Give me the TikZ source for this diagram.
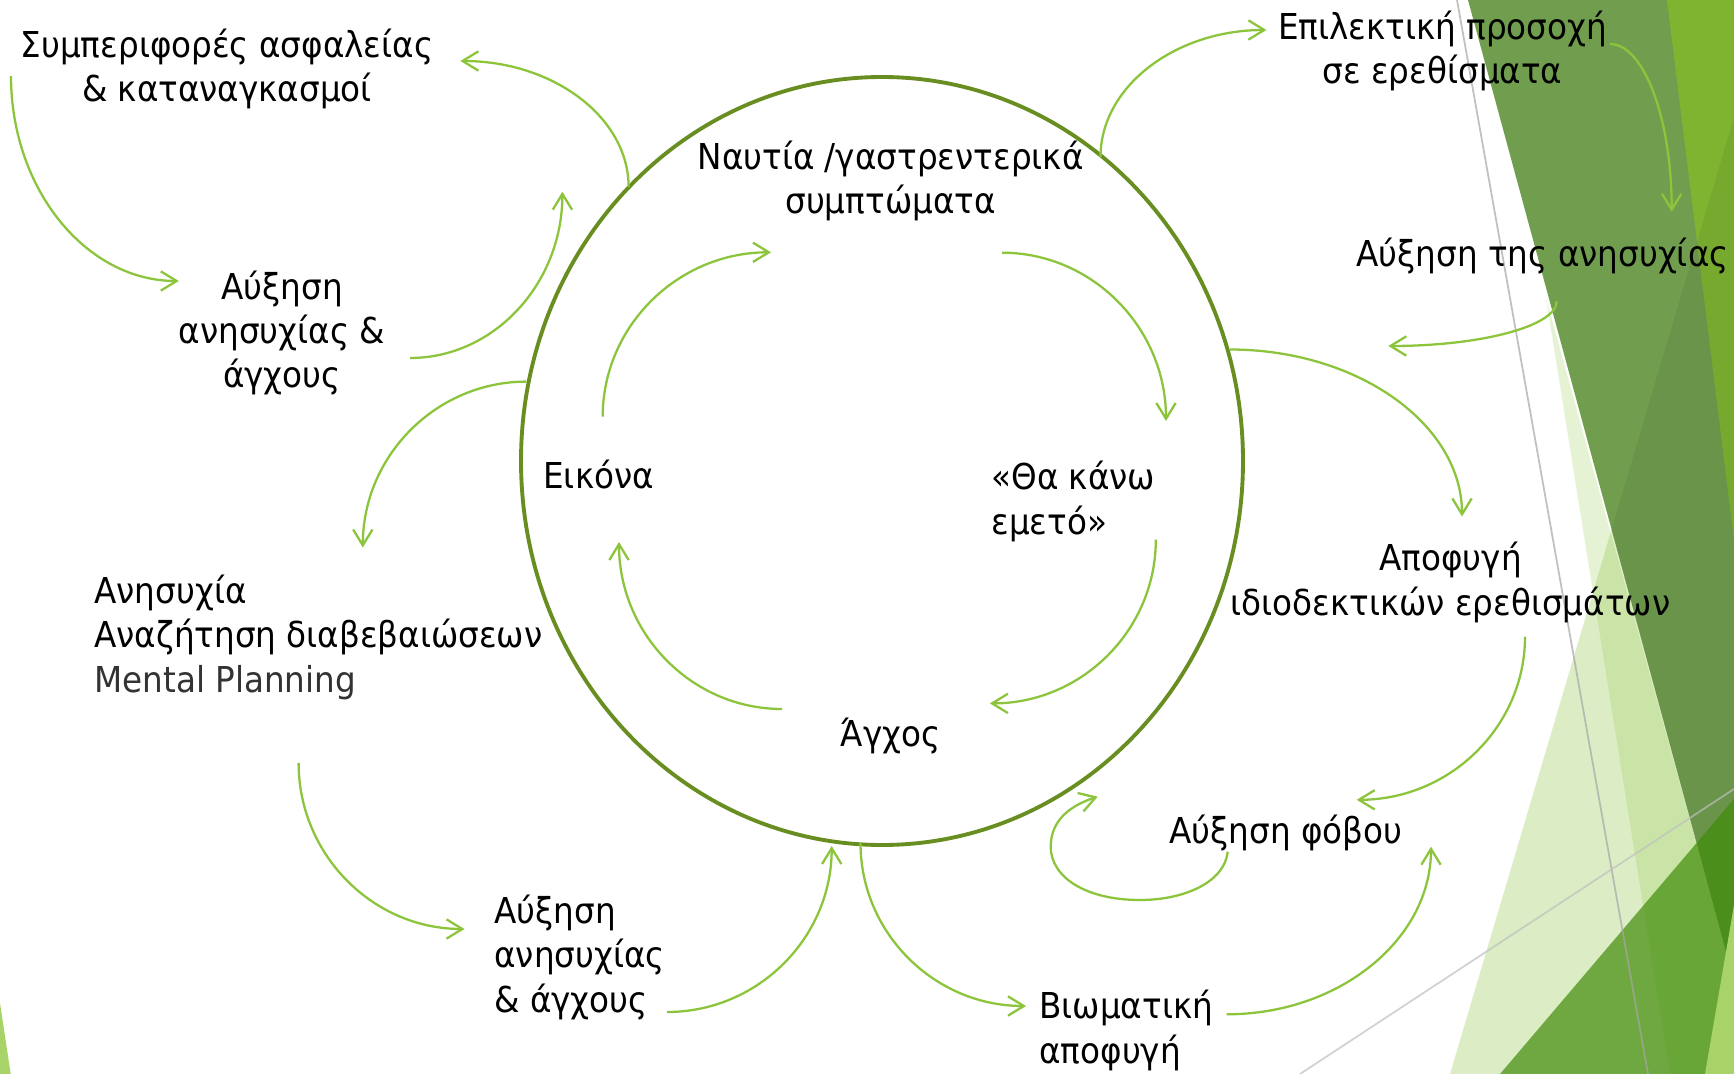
\documentclass[tikz,border=0pt]{standalone}
\usepackage{fontspec}
\setmainfont{DejaVu Sans}[FakeStretch=0.915]
\usetikzlibrary{arrows.meta}
\definecolor{arrowgreen}{RGB}{140,197,60}
\definecolor{ringgreen}{RGB}{104,142,34}
\definecolor{facetolive}{RGB}{112,158,78}
\definecolor{brightgreen}{RGB}{127,180,49}
\definecolor{facetgreen}{RGB}{141,198,63}
\definecolor{deepbase}{RGB}{65,140,10}
\definecolor{limegreen}{RGB}{168,211,104}
\begin{document}
\begin{tikzpicture}[x=0.02cm,y=-0.02cm,
  txt/.style={inner sep=0pt, font=\fontsize{20.3}{25.3}\selectfont, text=black},
  ctxt/.style={txt, align=center, anchor=base},
  ltxt/.style={txt, align=left, anchor=base west},
  arr/.style={draw=arrowgreen, line width=1.3pt,
    -{Straight Barb[length=9pt,width=11pt,line width=1.3pt]}},
  ring/.style={draw=ringgreen, line width=2.2pt},
]
\useasboundingbox (0,0) rectangle (1734,1074);
\fill[white] (0,0) rectangle (1734,1074);

% ---------- background facets ----------
\fill[facetgreen, opacity=0.22] (1546,298) -- (1670,1074) -- (1734,1074) -- (1734,981) -- cycle;
\fill[facetgreen, opacity=0.3] (1734,117) -- (1450,1074) -- (1734,1074) -- cycle;
\fill[facetolive] (1468,0) -- (1734,0) -- (1734,981) -- cycle;
\fill[brightgreen] (1667,0) -- (1734,0) -- (1734,540) -- cycle;
\begin{scope}
  \clip (1468,0) -- (1734,0) -- (1734,981) -- cycle;
  \fill[black, opacity=0.06] (1734,117) -- (1450,1074) -- (1734,1074) -- cycle;
\end{scope}
\fill[deepbase, opacity=0.7] (1500,1074) -- (1734,799) -- (1734,1074) -- cycle;
\fill[limegreen] (1705,1074) -- (1734,905) -- (1734,1074) -- cycle;
\fill[limegreen] (0,1003) -- (10.7,1074) -- (0,1074) -- cycle;
\draw[black!35, opacity=0.7, line width=1pt] (1457,0) -- (1648,1074);
\draw[black!25, opacity=0.7, line width=1pt] (1300,1074) -- (1734,789);

% ---------- ring ----------
\draw[ring] (882,461) ellipse [x radius=361, y radius=384];

% ---------- texts (anchor = baseline of the last line) ----------
\node[ctxt] (safety) at (227,102) {Συμπεριφορές ασφαλείας\\\& καταναγκασμοί};
\node[ctxt] (worryA) at (282,388) {Αύξηση\\ανησυχίας \&\\άγχους};
\node[ltxt] (reass) at (94,692) {Ανησυχία\\Αναζήτηση διαβεβαιώσεων\\\textcolor{black!80}{Mental Planning}};
\node[ltxt] (worryB) at (494,1012) {Αύξηση\\ανησυχίας\\\& άγχους};
\node[ltxt] (experient) at (1039,1063) {Βιωματική\\αποφυγή};
\node[ctxt] (fear) at (1286,843) {Αύξηση φόβου};
\node[ctxt] (avoid) at (1450.5,615) {Αποφυγή\\ιδιοδεκτικών ερεθισμάτων};
\node[ctxt] (worryC) at (1542.5,267) {Αύξηση της ανησυχίας};
\node[ctxt] (attention) at (1442.5,84) {Επιλεκτική προσοχή\\σε ερεθίσματα};
\node[ctxt] (nausea) at (890.6,214) {Ναυτία /γαστρεντερικά\\συμπτώματα};
\node[ltxt] (image) at (543,488) {Εικόνα};
\node[ltxt] (vomit) at (991,534) {«Θα κάνω\\εμετό»};
\node[ctxt] (anxiety) at (890.5,746.7) {Άγχος};

% ---------- connector end points ----------
\coordinate (a1s) at (628.6,187);   \coordinate (a1e) at (460.4,61);
\coordinate (a2s) at (11,76);       \coordinate (a2e) at (178.8,281);
\coordinate (a3s) at (410,358);     \coordinate (a3e) at (562.4,191.7);
\coordinate (a4s) at (526.5,381.6); \coordinate (a4e) at (362.8,547.5);
\coordinate (a5s) at (298.6,763);   \coordinate (a5e) at (464.5,929);
\coordinate (a6s) at (667,1012);    \coordinate (a6e) at (831.7,846);
\coordinate (a7s) at (860.5,843);   \coordinate (a7e) at (1026,1006);
\coordinate (a8s) at (1226.7,1014.3); \coordinate (a8e) at (1431,846.7);
\coordinate (a9s) at (1227.7,851.7); \coordinate (a9m1) at (1140,900);
\coordinate (a9m2) at (1050.7,846.7); \coordinate (a9e) at (1097.7,796.7);
\coordinate (a10s) at (1525,636.6); \coordinate (a10e) at (1356.7,799.8);
\coordinate (a11s) at (1229.8,349.5); \coordinate (a11e) at (1462,516.5);
\coordinate (a12s) at (1556.7,301.3); \coordinate (a12e) at (1388.3,346);
\coordinate (a13s) at (1610,44);    \coordinate (a13e) at (1671.7,211.8);
\coordinate (a14s) at (1100.5,157); \coordinate (a14e) at (1266.4,30);
\coordinate (b1s) at (602.7,416.7); \coordinate (b1e) at (771,252.3);
\coordinate (b2s) at (1002,252.7);  \coordinate (b2e) at (1166,421);
\coordinate (b3s) at (1155.8,539.7); \coordinate (b3e) at (989.9,703.4);
\coordinate (b4s) at (782,709);     \coordinate (b4e) at (619,542);

% ---------- outer connectors ----------
\draw[arr] (a1s) .. controls +(0,-69.6) and +(92.9,0) .. (a1e);
\draw[arr] (a2s) .. controls +(0,113) and +(-92.7,0) .. (a2e);
\draw[arr] (a3s) .. controls +(84.2,0) and +(0,91.8) .. (a3e);
\draw[arr] (a4s) .. controls +(-90.4,0) and +(0,-91.6) .. (a4e);
\draw[arr] (a5s) .. controls +(0,91.7) and +(-91.6,0) .. (a5e);
\draw[arr] (a6s) .. controls +(91,0) and +(0,91.7) .. (a6e);
\draw[arr] (a7s) .. controls +(0,90.2) and +(-91.4,0) .. (a7e);
\draw[arr] (a8s) .. controls +(112.8,0) and +(0,92.6) .. (a8e);
\draw[arr] (a9s) .. controls +(-3,30) and +(45,0) .. (a9m1)
               .. controls +(-55,0) and +(0,30) .. (a9m2)
               .. controls +(0,-28) and +(-25,8) .. (a9e);
\draw[arr] (a10s) .. controls +(0,90.1) and +(93,0) .. (a10e);
\draw[arr] (a11s) .. controls +(128.2,0) and +(0,-92.2) .. (a11e);
\draw[arr] (a12s) .. controls +(0,24.7) and +(93,0) .. (a12e);
\draw[arr] (a13s) .. controls +(34,0) and +(0,-92.7) .. (a13e);
\draw[arr] (a14s) .. controls +(0,-70) and +(-91.6,0) .. (a14e);

% ---------- inner cycle ----------
\draw[arr] (b1s) .. controls +(0,-90.6) and +(-93,0) .. (b1e);
\draw[arr] (b2s) .. controls +(90.6,0) and +(0,-92.8) .. (b2e);
\draw[arr] (b3s) .. controls +(0,90.6) and +(91.6,0) .. (b3e);
\draw[arr] (b4s) .. controls +(-90,0) and +(0,92.2) .. (b4e);
\end{tikzpicture}
\end{document}
